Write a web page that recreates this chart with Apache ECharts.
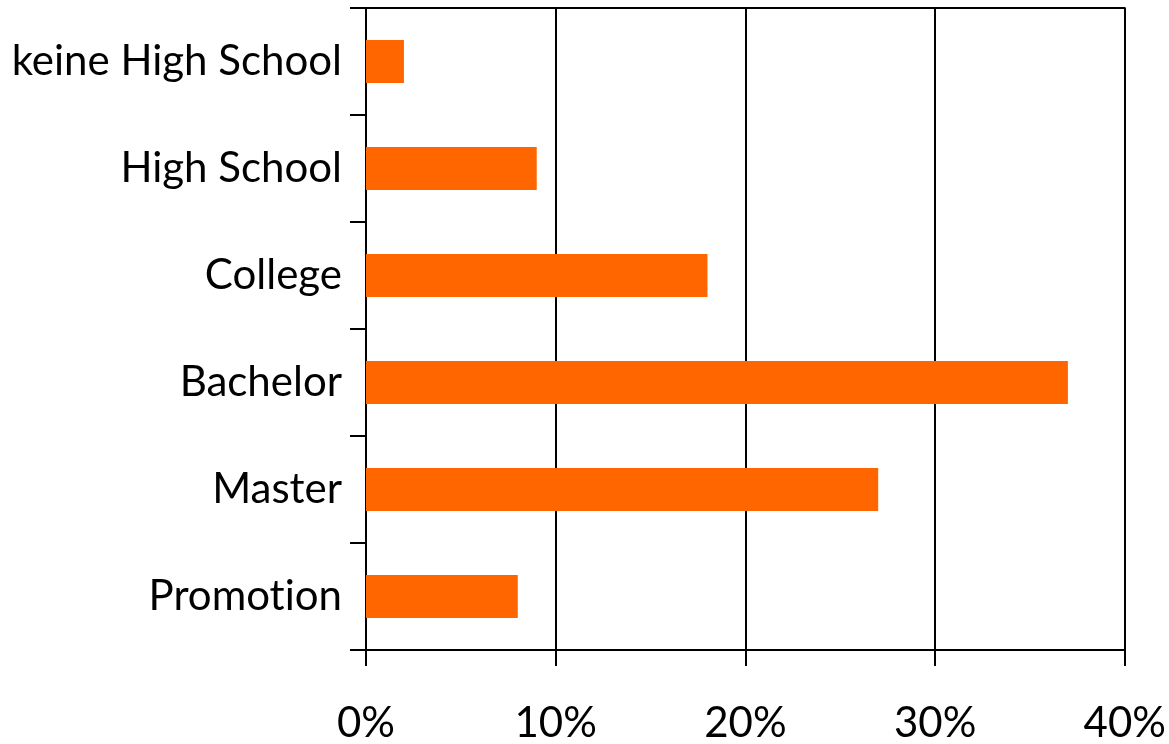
<!DOCTYPE html>
<html>
<head>
<meta charset="utf-8">
<script src="https://cdn.jsdelivr.net/npm/echarts@6/dist/echarts.min.js"></script>
<style>html,body{margin:0;padding:0;background:#fff}#c{width:1169px;height:744px}</style>
</head>
<body>
<div id="c"></div>
<script>
var categories = ['keine High School', 'High School', 'College', 'Bachelor', 'Master', 'Promotion'];
var values = [2, 9, 18, 37, 27, 8];
var xTicks = [0, 10, 20, 30, 40];

var chart = echarts.init(document.getElementById('c'), null, {renderer: 'canvas'});
var font = 'Lato, "Open Sans", sans-serif';
function noLig(s) { return String(s).replace(/ti/g, 't\u200Ci').replace(/fi/g, 'f\u200Ci'); }
chart.setOption({
  animation: false,
  grid: {left: 366, right: 43, top: 8, bottom: 91, containLabel: false},
  xAxis: [{
    type: 'value', min: xTicks[0], max: xTicks[xTicks.length - 1], interval: 10, position: 'bottom',
    axisLine: {show: true, lineStyle: {color: '#000', width: 2}},
    axisTick: {show: true, length: 16, lineStyle: {color: '#000', width: 2}},
    splitLine: {show: true, lineStyle: {color: '#000', width: 2}},
    axisLabel: {margin: 52, color: '#000', fontSize: 42, fontFamily: font,
      formatter: function (v) { return v + '%'; }}
  }, {
    type: 'value', min: xTicks[0], max: xTicks[xTicks.length - 1], interval: 10, position: 'top',
    axisLine: {show: true, onZero: false, lineStyle: {color: '#000', width: 2}},
    axisTick: {show: false}, axisLabel: {show: false}, splitLine: {show: false}
  }],
  yAxis: {
    type: 'category', data: categories, inverse: true,
    axisLine: {show: true, lineStyle: {color: '#000', width: 2}},
    axisTick: {show: true, length: 16, lineStyle: {color: '#000', width: 2}},
    axisLabel: {margin: 24, color: '#000', fontSize: 42, fontFamily: font,
      padding: [8, 0, 0, 0], formatter: noLig},
    splitLine: {show: false}
  },
  series: [{
    type: 'bar', data: values, barWidth: '40%', xAxisIndex: 0,
    itemStyle: {color: '#FF6600'}
  }]
});
</script>
</body>
</html>
